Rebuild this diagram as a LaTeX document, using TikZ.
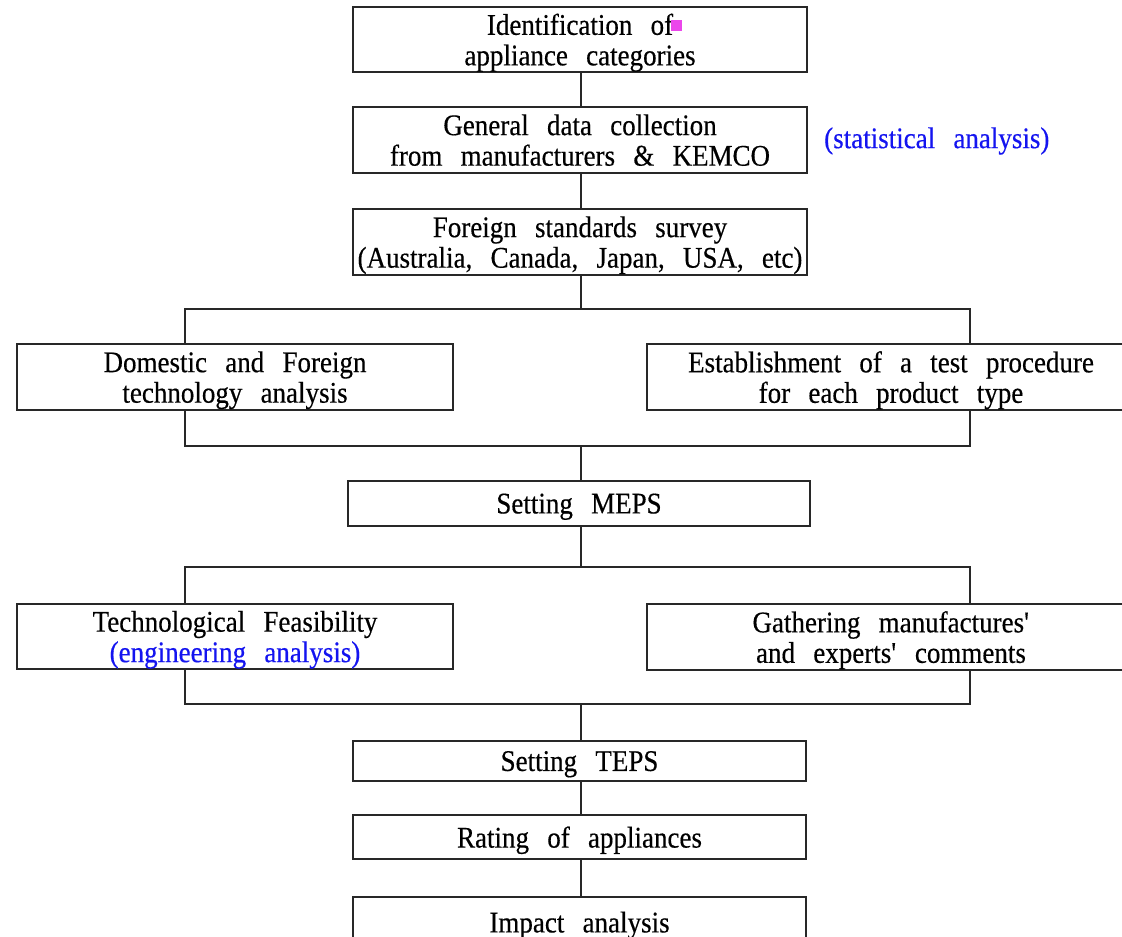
\documentclass[tikz,border=0pt]{standalone}
\usepackage{fontspec}
\setmainfont{Liberation Serif}[WordSpace=2.7, FakeStretch=0.9, FakeBold=0.4]
\definecolor{txtblue}{RGB}{20,20,240}
\definecolor{pinkmark}{RGB}{235,70,235}
\definecolor{linegray}{RGB}{40,40,40}
\begin{document}
\begin{tikzpicture}[x=1pt,y=-1pt,
  box/.style={draw=linegray, line width=1.2pt, inner sep=0pt, align=center,
              font=\fontsize{30}{30.5}\selectfont, fill=white, text depth=0pt},
  link/.style={draw=linegray, line width=1.2pt},
  note/.style={text=txtblue, inner sep=0pt, font=\fontsize{30}{30.5}\selectfont}]
\useasboundingbox (0,0) rectangle (1122,937);
\clip (0,0) rectangle (1122,937);
\fill[white] (0,0) rectangle (1122,937);

% helper coordinates
\coordinate (xl) at (185,0);
\coordinate (xr) at (970,0);
\coordinate (t1) at (581,309);
\coordinate (u1) at (581,446);
\coordinate (t2) at (581,567);
\coordinate (u2) at (581,704);

\node[box, minimum width=454pt, minimum height=65pt] (b1) at (580,39.5) {Identification of\\appliance categories};
\node[box, minimum width=454pt, minimum height=66pt] (b2) at (580,140) {General data collection\\from manufacturers \& KEMCO};
\node[box, minimum width=454pt, minimum height=66pt] (b3) at (580,242) {Foreign standards survey\\(Australia, Canada, Japan, USA, etc)};
\node[note, anchor=west] (stat) at (824,141) {(statistical analysis)};

\draw[link] (b1.south -| t1) -- (b2.north -| t1);
\draw[link] (b2.south -| t1) -- (b3.north -| t1);
\draw[link] (b3.south -| t1) -- (t1);
\draw[link] (xl |- 0,344) -- (xl |- t1) -- (xr |- t1) -- (xr |- 0,344);
\draw[link] (xl |- 0,410) -- (xl |- u1) -- (xr |- u1) -- (xr |- 0,410);

\node[box, minimum width=436pt, minimum height=66pt] (l1) at (235,377) {Domestic and Foreign\\technology analysis};
\node[box, minimum width=488pt, minimum height=66pt] (r1) at (891,377) {Establishment of a test procedure\\for each product type};

\node[box, minimum width=462pt, minimum height=45pt] (meps) at (579,503.5) {Setting MEPS};
\draw[link] (u1) -- (meps.north -| u1);
\draw[link] (meps.south -| t2) -- (t2);
\draw[link] (xl |- 0,604) -- (xl |- t2) -- (xr |- t2) -- (xr |- 0,604);
\draw[link] (xl |- 0,669) -- (xl |- u2) -- (xr |- u2) -- (xr |- 0,669);

\node[box, minimum width=436pt, minimum height=65pt] (l2) at (235,636.5) {Technological Feasibility\\\textcolor{txtblue}{(engineering analysis)}};
\node[box, minimum width=488pt, minimum height=66pt] (r2) at (891,637) {Gathering manufactures\textquotesingle\\and experts\textquotesingle{} comments};

\node[box, minimum width=453pt, minimum height=40pt] (teps) at (579.5,761) {Setting TEPS};
\node[box, minimum width=453pt, minimum height=44pt] (rate) at (579.5,837) {Rating of appliances};
\node[box, minimum width=453pt, minimum height=50pt] (imp) at (579.5,922) {Impact analysis};

\draw[link] (u2) -- (teps.north -| u2);
\draw[link] (teps.south -| u2) -- (rate.north -| u2);
\draw[link] (rate.south -| u2) -- (imp.north -| u2);

% small magenta mark after "of"
\fill[pinkmark] (671,20) rectangle (682,31);
\end{tikzpicture}
\end{document}
